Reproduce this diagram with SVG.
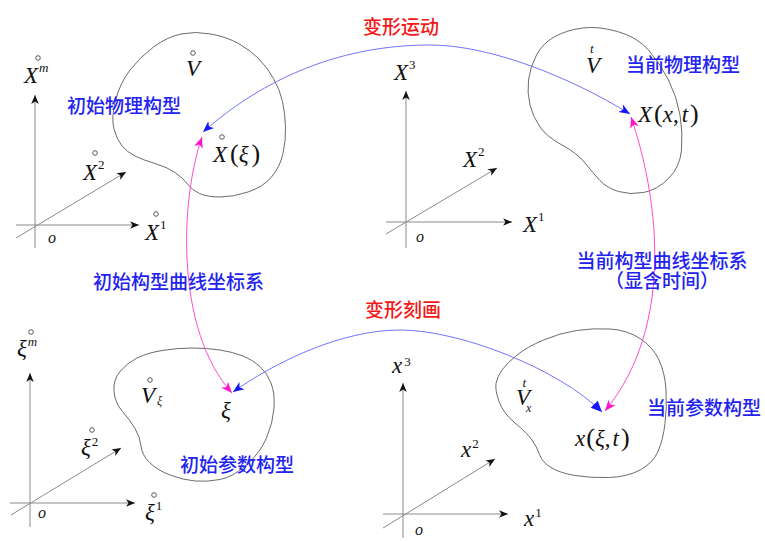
<svg xmlns="http://www.w3.org/2000/svg" width="765" height="541" viewBox="0 0 765 541">
<defs>
<style>
.ax{stroke:#8a8a8a;stroke-width:1;fill:none;marker-end:url(#ka)}
.blob{fill:none;stroke:#6b6b6b;stroke-width:1}
.m{font-family:'Liberation Serif','DejaVu Serif',serif;fill:#111}
.i{font-style:italic}
.big{font-size:23px}
.sup{font-size:13px}
.o{font-size:16px;font-style:italic}
.cn{font-family:'Noto Sans CJK SC','Noto Sans',sans-serif;font-size:19px;font-weight:500}
.b{fill:#2323f0}
.r{fill:#f51818}
.ring{fill:none;stroke:#333;stroke-width:0.8}
.bl{fill:none;stroke:#7373ff;stroke-width:1}
.mg{fill:none;stroke:#ff4ccc;stroke-width:1}
</style>
<marker id="ka" viewBox="-10 -5 11 10" markerWidth="11" markerHeight="10" refX="0" refY="0" orient="auto" markerUnits="userSpaceOnUse"><path d="M0,0 L-9,-3.8 L-6.5,0 L-9,3.8 Z" fill="#111"/></marker>
<marker id="bb" viewBox="-12 -6 13 12" markerWidth="13" markerHeight="12" refX="0" refY="0" orient="auto-start-reverse" markerUnits="userSpaceOnUse"><path d="M0,0 L-11,-4.5 L-8,0 L-11,4.5 Z" fill="#1414ff"/></marker>
<marker id="bf" viewBox="-12 -6 13 12" markerWidth="13" markerHeight="12" refX="0" refY="0" orient="auto" markerUnits="userSpaceOnUse"><path d="M0,0 L-11,-5 L-11,5 Z" fill="#1414ff"/></marker>
<marker id="mb" viewBox="-12 -6 13 12" markerWidth="13" markerHeight="12" refX="0" refY="0" orient="auto-start-reverse" markerUnits="userSpaceOnUse"><path d="M0,0 L-11,-4.5 L-8,0 L-11,4.5 Z" fill="#ff14c8"/></marker>
</defs>
<rect width="765" height="541" fill="#fff"/>

<g id="cs-initial-physical">
<line class="ax" x1="35" y1="248" x2="35" y2="95"/>
<line class="ax" x1="16" y1="225" x2="139" y2="225"/>
<line class="ax" x1="16" y1="238" x2="126" y2="172"/>
<text class="m i big" x="24" y="83">X<tspan class="sup" dx="1" dy="-11">m</tspan></text><circle class="ring" cx="38" cy="58" r="2.3"/>
<text class="m i big" x="83" y="180">X<tspan class="sup" font-style="normal" dx="1" dy="-11">2</tspan></text><circle class="ring" cx="95" cy="153" r="2.3"/>
<text class="m i big" x="145" y="240">X<tspan class="sup" font-style="normal" dx="1" dy="-11">1</tspan></text><circle class="ring" cx="156" cy="214" r="2.3"/>
<text class="m o" x="48" y="243">o</text>
</g>

<g id="cs-current-physical">
<line class="ax" x1="406" y1="248" x2="406" y2="91"/>
<line class="ax" x1="386" y1="222" x2="512" y2="222"/>
<line class="ax" x1="386" y1="234" x2="497" y2="168"/>
<text class="m i big" x="394" y="80">X<tspan class="sup" font-style="normal" dx="1" dy="-11">3</tspan></text>
<text class="m i big" x="463" y="167">X<tspan class="sup" font-style="normal" dx="1" dy="-11">2</tspan></text>
<text class="m i big" x="523" y="232">X<tspan class="sup" font-style="normal" dx="1" dy="-11">1</tspan></text>
<text class="m o" x="416" y="242">o</text>
</g>

<g id="cs-initial-param">
<line class="ax" x1="30" y1="527" x2="30" y2="373"/>
<line class="ax" x1="10" y1="503" x2="135" y2="503"/>
<line class="ax" x1="11" y1="515" x2="121" y2="448"/>
<text class="m i big" x="17" y="356">ξ<tspan class="sup" dx="1" dy="-10">m</tspan></text><circle class="ring" cx="31" cy="332" r="2.3"/>
<text class="m i big" x="81" y="455">ξ<tspan class="sup" font-style="normal" dx="1" dy="-9">2</tspan></text><circle class="ring" cx="92" cy="430" r="2.3"/>
<text class="m i big" x="145" y="520">ξ<tspan class="sup" font-style="normal" dx="1" dy="-10">1</tspan></text><circle class="ring" cx="154" cy="495" r="2.3"/>
<text class="m o" x="38" y="518">o</text>
</g>

<g id="cs-current-param">
<line class="ax" x1="403" y1="538" x2="403" y2="383"/>
<line class="ax" x1="383" y1="514" x2="508" y2="514"/>
<line class="ax" x1="383" y1="528" x2="495" y2="459"/>
<text class="m i big" x="392" y="373">x<tspan class="sup" font-style="normal" dx="2" dy="-7">3</tspan></text>
<text class="m i big" x="461" y="457">x<tspan class="sup" font-style="normal" dx="1" dy="-9">2</tspan></text>
<text class="m i big" x="524" y="526">x<tspan class="sup" font-style="normal" dx="1" dy="-9">1</tspan></text>
<text class="m o" x="415" y="535">o</text>
</g>

<g id="body-initial-physical">
<path class="blob" d="M181,34 Q195,31 211,34 Q227,37 238.5,43.5 Q250,50 258.5,58.5 Q267,67 273.5,78.5 Q280,90 282.5,101.5 Q285,113 285.5,126.5 Q286,140 283,153.5 Q280,167 271.5,177 Q263,187 248,192 Q233,197 220,197 Q207,197 199.5,193.5 Q192,190 187.5,184 Q183,178 175,172.5 Q167,167 155,163.5 Q143,160 135,156 Q127,152 122,146 Q117,140 114,129 Q111,118 115.5,100.5 Q120,83 130,70 Q140,57 153.5,47 Q167,37 181,34 Z"/>
<text class="m i big" x="186" y="76">V</text><circle class="ring" cx="193" cy="53" r="2.3"/>
<text class="m big" x="213" y="162"><tspan class="i">X</tspan><tspan dx="3" font-size="26">(</tspan><tspan class="i">ξ</tspan><tspan dx="3" font-size="26">)</tspan></text><circle class="ring" cx="222" cy="137" r="2.3"/>
</g>

<g id="body-current-physical">
<path class="blob" d="M582.5,28 Q598,26 617.5,31.5 Q637,37 648.5,50 Q660,63 668.5,80 Q677,97 680,115 Q683,133 681.5,150 Q680,167 668.5,178.5 Q657,190 643.5,192.5 Q630,195 618.5,191.5 Q607,188 600,180.5 Q593,173 585,163 Q577,153 562,145 Q547,137 540,127 Q533,117 530,105 Q527,93 528.5,80 Q530,67 536.5,55 Q543,43 555,36.5 Q567,30 582.5,28 Z"/>
<text class="m i big" x="586" y="73">V<tspan font-size="13" dx="-10" dy="-20">t</tspan></text>
<text class="m big" x="638" y="122"><tspan class="i">X</tspan><tspan dx="2" font-size="26">(</tspan><tspan class="i">x</tspan><tspan>,</tspan><tspan class="i" dx="3">t</tspan><tspan dx="2" font-size="26">)</tspan></text>
</g>

<g id="body-initial-param">
<path class="blob" d="M192,348 Q207,348 220,350 Q233,352 243,356 Q253,360 260,366.5 Q267,373 271,383 Q275,393 274,408 Q273,423 266.5,438 Q260,453 246.5,465 Q233,477 220,479.5 Q207,482 195,481 Q183,480 170,475 Q157,470 149.5,462.5 Q142,455 141,446 Q140,437 135,428.5 Q130,420 122.5,411.5 Q115,403 114,391.5 Q113,380 120,371.5 Q127,363 137,358 Q147,353 162,350.5 Q177,348 192,348 Z"/>
<text class="m i big" x="141" y="403">V<tspan font-size="12" dx="2" dy="2">ξ</tspan></text><circle class="ring" cx="150" cy="380" r="2.3"/>
<text class="m i big" x="221" y="418">ξ</text>
</g>

<g id="body-current-param">
<path class="blob" d="M576.5,330.5 Q593,328 610,329 Q627,330 640,338.5 Q653,347 659,360 Q665,373 666,390 Q667,407 665,423.5 Q663,440 658,451.5 Q653,463 640,470 Q627,477 608.5,477.5 Q590,478 575,475.5 Q560,473 551,467.5 Q542,462 539.5,454.5 Q537,447 532,440 Q527,433 515,423 Q503,413 499,401.5 Q495,390 496,383.5 Q497,377 502,370 Q507,363 517,355 Q527,347 543.5,340 Q560,333 576.5,330.5 Z"/>
<text class="m i big" x="516" y="405">V<tspan font-size="12" dx="-4" dy="7">x</tspan><tspan font-size="13" dx="-9" dy="-25">t</tspan></text>
<text class="m big" x="575" y="446"><tspan class="i">x</tspan><tspan dx="1" font-size="26">(</tspan><tspan class="i">ξ</tspan><tspan>,</tspan><tspan class="i" dx="2">t</tspan><tspan dx="2" font-size="26">)</tspan></text>
</g>

<g id="connectors">
<path class="bl" d="M203,132 C245,95 320,45 430,45 C490,45 570,77 630,114" marker-start="url(#bb)" marker-end="url(#bb)"/>
<path class="bl" d="M233,392 C274,363 340,330 400,330 C460,330 559,369 602,412" marker-start="url(#bb)" marker-end="url(#bf)"/>
<path class="mg" d="M202,137 C180,200 175,330 232,393" marker-start="url(#mb)" marker-end="url(#mb)"/>
<path class="mg" d="M631,117 C656,190 678,322 605,411" marker-start="url(#mb)" marker-end="url(#mb)"/>
</g>

<g id="labels">
<text class="cn b" x="67" y="113">初始物理构型</text>
<text class="cn r" x="363" y="34">变形运动</text>
<text class="cn b" x="626" y="72">当前物理构型</text>
<text class="cn b" x="93" y="289">初始构型曲线坐标系</text>
<text class="cn b" x="662" y="268" text-anchor="middle">当前构型曲线坐标系</text>
<text class="cn b" x="662" y="288" text-anchor="middle">（显含时间）</text>
<text class="cn r" x="365" y="317">变形刻画</text>
<text class="cn b" x="180" y="472">初始参数构型</text>
<text class="cn b" x="647" y="415">当前参数构型</text>
</g>
</svg>
